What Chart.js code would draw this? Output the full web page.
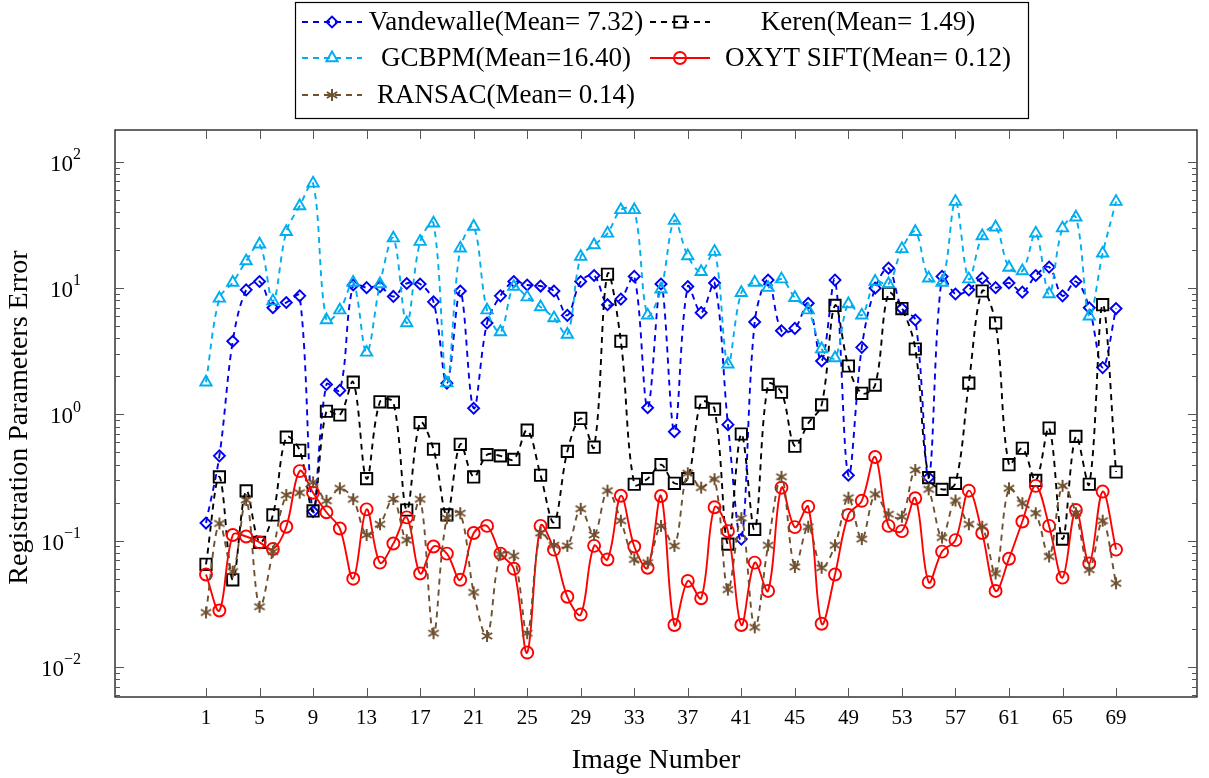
<!DOCTYPE html>
<html>
<head>
<meta charset="utf-8">
<script src="https://cdn.jsdelivr.net/npm/chart.js@4.4.1/dist/chart.umd.min.js"></script>
<style>
  html, body { margin: 0; padding: 0; background: #fff; }
  #wrap { width: 1209px; height: 778px; }
</style>
</head>
<body>
<div id="wrap"><canvas id="chart" width="1209" height="778"></canvas></div>
<script>
// Numéros d'image (axe x)
const imageNumbers = [1, 2, 3, 4, 5, 6, 7, 8, 9, 10, 11, 12, 13, 14, 15, 16, 17, 18, 19, 20,
    21, 22, 23, 24, 25, 26, 27, 28, 29, 30, 31, 32, 33, 34, 35, 36, 37, 38, 39, 40,
    41, 42, 43, 44, 45, 46, 47, 48, 49, 50, 51, 52, 53, 54, 55, 56, 57, 58, 59, 60,
    61, 62, 63, 64, 65, 66, 67, 68, 69];
const xTicks = [1, 5, 9, 13, 17, 21, 25, 29, 33, 37, 41, 45, 49, 53, 57, 61, 65, 69];
const yDecades = [-2, -1, 0, 1, 2];

// Erreurs par méthode
const vandewalle = [0.138, 0.47, 3.8, 9.7, 11.3, 7.0, 7.7, 8.7, 0.17, 1.73,
    1.55, 10.6, 10.1, 10.3, 8.6, 10.9, 10.8, 7.8, 1.77, 9.5,
    1.12, 5.3, 8.7, 11.3, 10.6, 10.4, 9.5, 6.1, 11.3, 12.6,
    7.4, 8.2, 12.4, 1.13, 10.8, 0.73, 10.3, 6.4, 11.0, 0.83,
    0.103, 5.4, 11.6, 4.6, 4.8, 7.6, 2.65, 11.6, 0.33, 3.4,
    10.0, 14.4, 6.9, 5.6, 0.316, 12.4, 9.0, 9.7, 12.0, 10.1,
    11.0, 9.3, 12.6, 14.7, 8.7, 11.3, 7.0, 2.35, 6.9];
const keren = [0.065, 0.32, 0.049, 0.248, 0.097, 0.16, 0.66, 0.52, 0.172, 1.06,
    0.99, 1.8, 0.31, 1.26, 1.25, 0.175, 0.86, 0.53, 0.16, 0.58,
    0.32, 0.48, 0.47, 0.44, 0.75, 0.33, 0.14, 0.51, 0.93, 0.55,
    12.9, 3.8, 0.28, 0.31, 0.40, 0.285, 0.31, 1.25, 1.1, 0.094,
    0.70, 0.123, 1.73, 1.5, 0.56, 0.85, 1.19, 7.3, 2.42, 1.47,
    1.71, 9.1, 6.9, 3.3, 0.316, 0.255, 0.285, 1.77, 9.5, 5.3,
    0.40, 0.54, 0.30, 0.78, 0.103, 0.67, 0.28, 7.4, 0.35];
const gcbpm = [1.8, 8.3, 11.1, 16.4, 22.3, 7.9, 28, 44.8, 67.7, 5.6,
    6.7, 11.1, 3.1, 10.8, 24.9, 5.3, 23.4, 32.7, 1.77, 20.7,
    30.8, 6.7, 4.5, 10.3, 8.5, 7.1, 5.8, 4.3, 17.8, 22,
    27.2, 41.7, 41.7, 6.1, 9.8, 34.3, 18, 13.5, 19.5, 2.5,
    9.2, 11.1, 10.1, 11.8, 8.4, 6.7, 3.3, 2.8, 7.5, 6.1,
    11.3, 10.8, 20.5, 28, 12, 11.1, 48.5, 11.8, 25.9, 30.4,
    14.6, 13.7, 27.2, 9.0, 29.9, 36.5, 6.0, 18.9, 48.5];
const oxytSift = [0.054, 0.028, 0.111, 0.108, 0.097, 0.086, 0.129, 0.356, 0.24, 0.168,
    0.125, 0.050, 0.177, 0.067, 0.095, 0.153, 0.055, 0.09, 0.079, 0.049,
    0.115, 0.131, 0.079, 0.06, 0.013, 0.131, 0.085, 0.036, 0.026, 0.091,
    0.071, 0.227, 0.09, 0.061, 0.226, 0.0215, 0.048, 0.035, 0.184, 0.119,
    0.0215, 0.067, 0.040, 0.263, 0.128, 0.186, 0.022, 0.054, 0.16, 0.207,
    0.46, 0.131, 0.119, 0.217, 0.047, 0.082, 0.101, 0.249, 0.115, 0.040,
    0.072, 0.142, 0.272, 0.131, 0.051, 0.175, 0.066, 0.245, 0.085];
const ransac = [0.027, 0.137, 0.057, 0.21, 0.030, 0.082, 0.23, 0.24, 0.29, 0.207,
    0.26, 0.213, 0.111, 0.135, 0.214, 0.101, 0.213, 0.0185, 0.151, 0.165,
    0.039, 0.0176, 0.078, 0.076, 0.0185, 0.115, 0.092, 0.091, 0.179, 0.111,
    0.249, 0.144, 0.071, 0.067, 0.131, 0.091, 0.342, 0.263, 0.307, 0.041,
    0.151, 0.0206, 0.092, 0.321, 0.062, 0.129, 0.061, 0.092, 0.219, 0.103,
    0.233, 0.162, 0.155, 0.363, 0.255, 0.106, 0.208, 0.135, 0.129, 0.055,
    0.26, 0.198, 0.165, 0.075, 0.272, 0.165, 0.059, 0.144, 0.046];

const legendLabels = ['Vandewalle(Mean= 7.32)', 'Keren(Mean= 1.49)', 'GCBPM(Mean=16.40)',
    'OXYT SIFT(Mean= 0.12)', 'RANSAC(Mean= 0.14)'];

const FONT = '"Liberation Serif", "DejaVu Serif", serif';
const BROWN = '#6f5130';

// Astérisque à 6 branches pour RANSAC
function makeAsterisk(color, size) {
    const c = document.createElement('canvas');
    c.width = size; c.height = size;
    const g = c.getContext('2d');
    g.strokeStyle = color;
    g.lineWidth = 2;
    const r = size / 2 - 1;
    const m = size / 2;
    for (let k = 0; k < 3; k++) {
        const a = Math.PI / 2 + k * Math.PI / 3;
        g.beginPath();
        g.moveTo(m + r * Math.cos(a), m + r * Math.sin(a));
        g.lineTo(m - r * Math.cos(a), m - r * Math.sin(a));
        g.stroke();
    }
    return c;
}
const asterisk = makeAsterisk(BROWN, 14);

function toPoints(values) {
    return values.map((v, i) => ({ x: imageNumbers[i], y: v }));
}

function series(label, values, color, style, radius, dashed, order) {
    return {
        label: label,
        data: toPoints(values),
        borderColor: color,
        backgroundColor: 'rgba(0,0,0,0)',
        borderWidth: 1.9,
        borderDash: dashed ? [6, 5] : [],
        pointStyle: style,
        pointRadius: radius,
        pointBorderWidth: 1.9,
        pointBorderColor: color,
        pointBackgroundColor: 'rgba(0,0,0,0)',
        tension: 0.35,
        order: order
    };
}

const datasets = [
    series(legendLabels[0], vandewalle, '#0000f0', 'rectRot', 5.5, true, 5),
    series(legendLabels[1], keren, '#000000', 'rect', 8, true, 4),
    series(legendLabels[2], gcbpm, '#00aeef', 'triangle', 6.5, true, 3),
    series(legendLabels[3], oxytSift, '#ff0000', 'circle', 6, false, 2),
    series(legendLabels[4], ransac, BROWN, asterisk, 7, true, 1)
];

// Cadre, graduations, étiquettes et légende
const decorPlugin = {
    id: 'decor',
    afterDraw(chart) {
        const ctx = chart.ctx;
        const a = chart.chartArea;
        const xs = chart.scales.x;
        const ys = chart.scales.y;
        ctx.save();
        ctx.strokeStyle = '#000';
        ctx.lineWidth = 1.2;
        ctx.setLineDash([]);
        ctx.strokeRect(a.left, a.top, a.right - a.left, a.bottom - a.top);

        ctx.strokeStyle = '#555';
        ctx.lineWidth = 1;
        ctx.beginPath();
        xTicks.forEach(t => {
            const px = Math.round(xs.getPixelForValue(t)) + 0.5;
            ctx.moveTo(px, a.bottom); ctx.lineTo(px, a.bottom - 9);
            ctx.moveTo(px, a.top); ctx.lineTo(px, a.top + 9);
        });
        [-3, -2, -1, 0, 1, 2].forEach(d => {
            if (d >= -2) {
                const py = Math.round(ys.getPixelForValue(Math.pow(10, d))) + 0.5;
                ctx.moveTo(a.left, py); ctx.lineTo(a.left + 9, py);
                ctx.moveTo(a.right, py); ctx.lineTo(a.right - 9, py);
            }
            for (let m = 2; m <= 9; m++) {
                const v = m * Math.pow(10, d);
                if (v > ys.max || v < ys.min) continue;
                const pm = Math.round(ys.getPixelForValue(v)) + 0.5;
                ctx.moveTo(a.left, pm); ctx.lineTo(a.left + 5, pm);
                ctx.moveTo(a.right, pm); ctx.lineTo(a.right - 5, pm);
            }
        });
        ctx.stroke();

        ctx.fillStyle = '#000';
        ctx.font = '21px ' + FONT;
        ctx.textAlign = 'center';
        ctx.textBaseline = 'middle';
        xTicks.forEach(t => {
            ctx.fillText(String(t), xs.getPixelForValue(t), a.bottom + 21);
        });

        // 10^k avec exposant
        yDecades.forEach(d => {
            const py = ys.getPixelForValue(Math.pow(10, d));
            const exp = d < 0 ? '\u2212' + (-d) : String(d);
            ctx.font = '16px ' + FONT;
            const we = ctx.measureText(exp).width;
            ctx.font = '23px ' + FONT;
            const wb = ctx.measureText('10').width;
            const right = a.left - 34;
            ctx.textAlign = 'left';
            ctx.fillText('10', right - we - wb, py + 3);
            ctx.font = '16px ' + FONT;
            ctx.fillText(exp, right - we, py - 7);
        });

        ctx.font = '28px ' + FONT;
        ctx.textAlign = 'center';
        ctx.fillText('Image Number', (a.left + a.right) / 2, 761);
        ctx.save();
        ctx.translate(20, (a.top + a.bottom) / 2 + 4);
        ctx.rotate(-Math.PI / 2);
        ctx.fillText('Registration Parameters Error', 0, 0);
        ctx.restore();

        // Légende sur deux colonnes
        ctx.fillStyle = '#fff';
        ctx.fillRect(295, 2, 733, 116);
        ctx.strokeStyle = '#000';
        ctx.lineWidth = 1.2;
        ctx.strokeRect(295.5, 2.5, 733, 116);
        const rows = [22, 58, 95];
        const cols = [{ x0: 302, text: 506 }, { x0: 650, text: 868 }];
        ctx.font = '27px ' + FONT;
        chart.data.datasets.forEach((ds, i) => {
            const col = cols[i % 2];
            const y = rows[Math.floor(i / 2)];
            ctx.save();
            ctx.strokeStyle = ds.borderColor;
            ctx.lineWidth = ds.borderWidth;
            ctx.setLineDash(ds.borderDash);
            ctx.beginPath();
            ctx.moveTo(col.x0, y);
            ctx.lineTo(col.x0 + 60, y);
            ctx.stroke();
            ctx.setLineDash([]);
            ctx.lineWidth = ds.pointBorderWidth;
            ctx.fillStyle = 'rgba(0,0,0,0)';
            Chart.helpers.drawPoint(ctx, {
                pointStyle: ds.pointStyle,
                radius: ds.pointRadius,
                rotation: 0,
                borderWidth: ds.pointBorderWidth
            }, col.x0 + 30, y);
            ctx.restore();
            ctx.fillStyle = '#000';
            ctx.textAlign = 'center';
            ctx.fillText(ds.label, col.text, y + 1);
        });
        ctx.restore();
    }
};

const ctx = document.getElementById('chart').getContext('2d');
new Chart(ctx, {
    type: 'line',
    data: { datasets: datasets },
    options: {
        responsive: false,
        animation: false,
        devicePixelRatio: 1,
        layout: { padding: { left: 115, right: 12, top: 130, bottom: 81 } },
        plugins: {
            legend: { display: false },
            tooltip: { enabled: false }
        },
        scales: {
            x: {
                type: 'linear',
                display: false,
                min: -5.8,
                max: 75.05
            },
            y: {
                type: 'logarithmic',
                display: false,
                min: Math.pow(10, -2.238),
                max: Math.pow(10, 2.253)
            }
        }
    },
    plugins: [decorPlugin]
});
</script>
</body>
</html>
